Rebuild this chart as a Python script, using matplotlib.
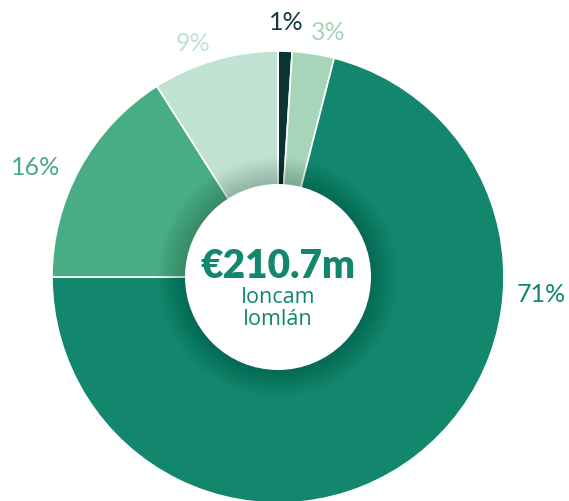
import matplotlib
matplotlib.use("Agg")
import numpy as np
import matplotlib.pyplot as plt
from matplotlib.patches import Circle

# Income breakdown (share of total, %)
labels = ["1%", "3%", "71%", "16%", "9%"]
shares = [1, 3, 71, 16, 9]
colors = ["#0c3434", "#a6d5b9", "#12876e", "#48ad84", "#c0e2d3"]
label_colors = ["#163a3a", "#a6d5b9", "#12876e", "#48ad84", "#c0e2d3"]
total_text = "€210.7m"
sub_text = ["Ioncam", "Iomlán"]

W, H = 569, 502
CX, CY, R = 278, 278, 226  # pixel centre / radius of the donut

plt.rcParams["font.family"] = ["Lato", "DejaVu Sans"]

fig = plt.figure(figsize=(W / 100, H / 100), dpi=100)
ax = fig.add_axes([0, 0, 1, 1])

wedges, _ = ax.pie(shares, colors=colors, startangle=90, counterclock=False,
                   radius=1.0,
                   wedgeprops=dict(edgecolor="white", linewidth=1.2))

# pie() resets the limits, so set them afterwards
ax.set_xlim(-CX / R, (W - CX) / R)
ax.set_ylim(-(H - CY) / R, CY / R)
ax.set_aspect("equal")
ax.axis("off")

# percentage labels around the ring (angle offset in degrees, distance)
label_pos = {"1%": (0, 1.13), "3%": (-2.5, 1.11), "71%": (None, 1.06),
             "16%": (2, 1.08), "9%": (0, 1.08)}
for w, lab, col in zip(wedges, labels, label_colors):
    off, dist = label_pos[lab]
    if off is None:
        # bottom of the ring is cut off, so this one sits at the right
        ang = np.deg2rad(-4.0)
    else:
        ang = np.deg2rad((w.theta1 + w.theta2) / 2 + off)
    c = np.cos(ang)
    ha = "right" if c < -0.2 else ("left" if c > 0.2 else "center")
    ax.text(dist * c, dist * np.sin(ang), lab, color=col,
            fontsize=18, ha=ha, va="center")

# soft shadow ring around the centre hole
inner = 93 / R
outer = 120 / R
for r in np.linspace(outer, inner, 16):
    ax.add_patch(Circle((0, 0), r, facecolor="#06261f", alpha=0.017,
                        edgecolor="none", zorder=3))
ax.add_patch(Circle((0, 0), inner, facecolor="white", edgecolor="none", zorder=4))

ax.text(0, (CY - 278) / R, total_text, color="#12876e", fontsize=28,
        fontweight="heavy", ha="center", va="baseline", zorder=5)
ax.text(0, (CY - 303) / R, sub_text[0], color="#12876e", fontsize=15.5,
        family=["Open Sans", "DejaVu Sans"], ha="center", va="baseline", zorder=5)
ax.text(0, (CY - 325) / R, sub_text[1], color="#12876e", fontsize=15.5,
        family=["Open Sans", "DejaVu Sans"], ha="center", va="baseline", zorder=5)

fig.savefig("out.png", dpi=100)
plt.close(fig)
